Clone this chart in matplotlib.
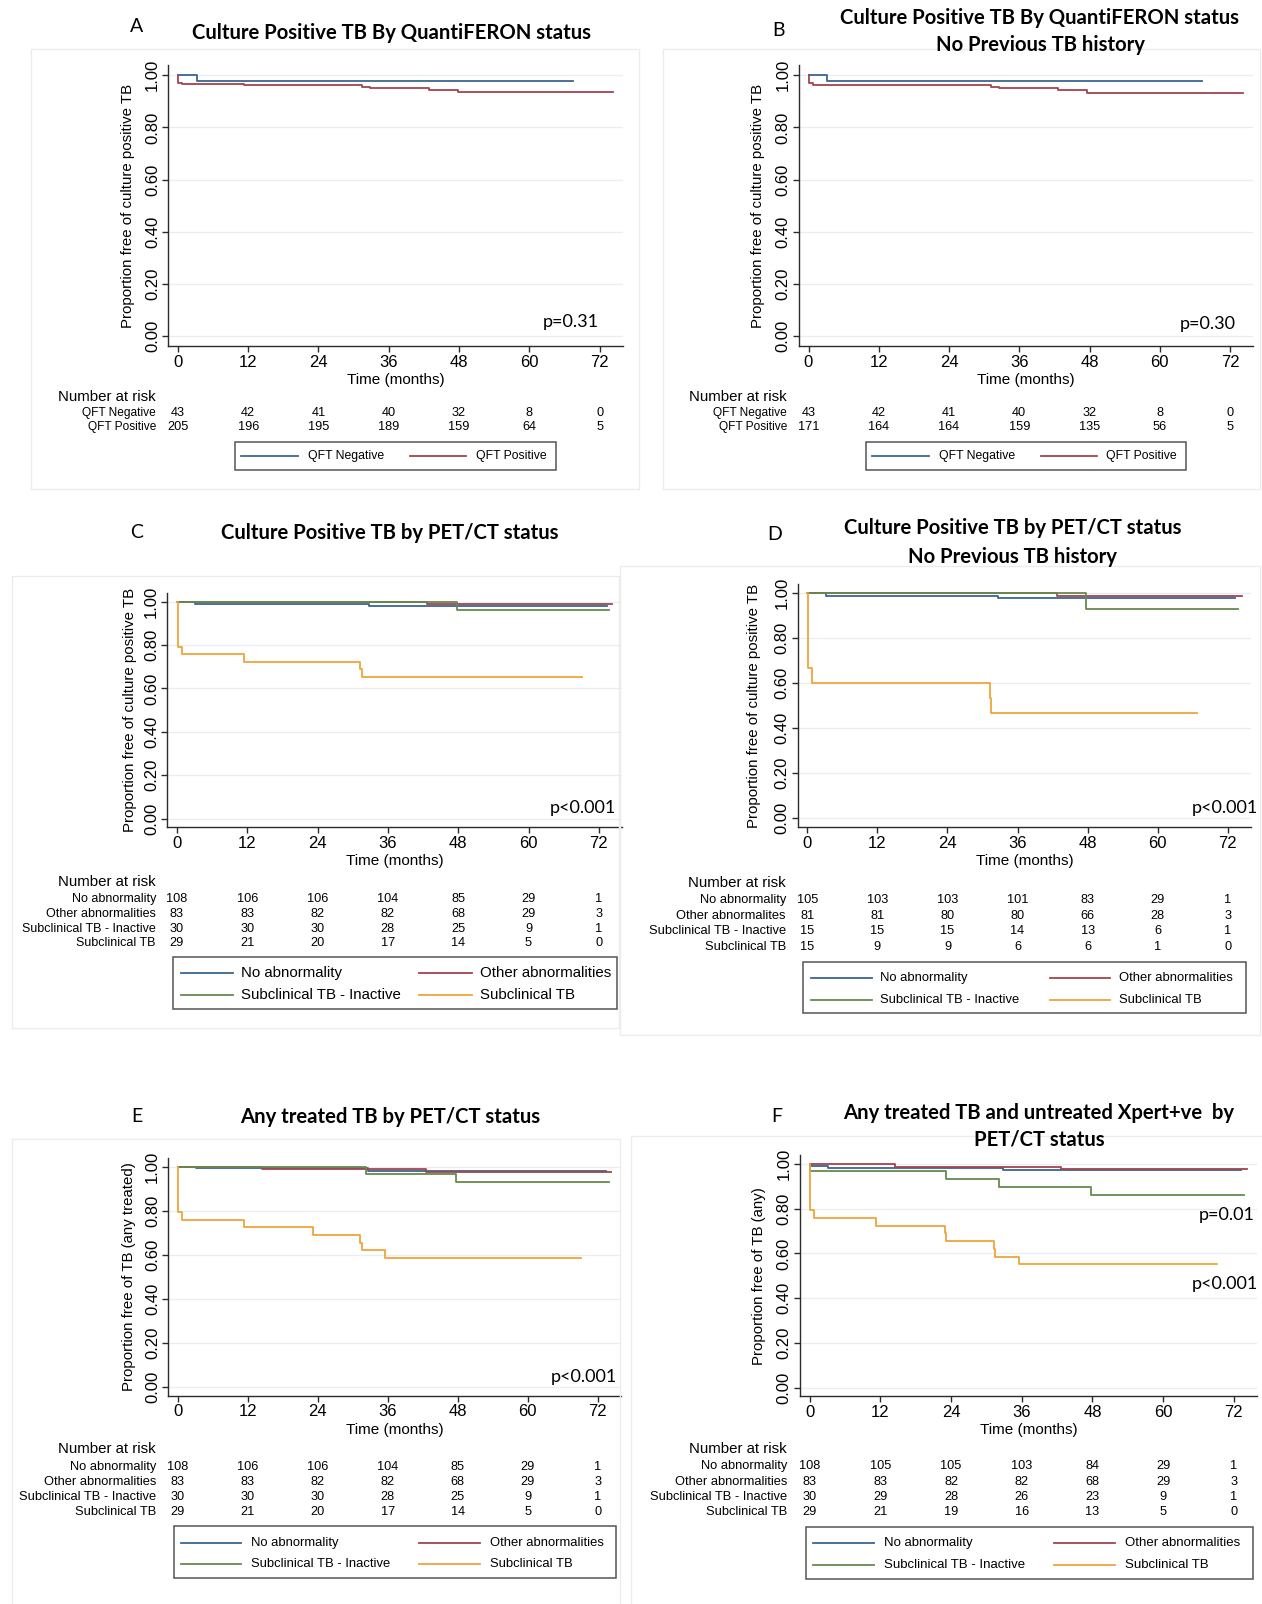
import matplotlib
matplotlib.use("Agg")
import matplotlib.pyplot as plt
from matplotlib.lines import Line2D
from matplotlib.patches import Rectangle
from matplotlib.transforms import blended_transform_factory

W, H = 1262, 1604
NARROW = ['Liberation Sans Narrow', 'Liberation Sans', 'DejaVu Sans']
CAL = ['Lato', 'DejaVu Sans']

BLUE, RED, GREEN, ORANGE = '#3a6791', '#a5434e', '#668a4c', '#f0a43a'

months = [0, 12, 24, 36, 48, 60, 72]
yticks = [0, 0.2, 0.4, 0.6, 0.8, 1.0]

# ---- data (time in months, proportion free) ----
qft_names = ['QFT Negative', 'QFT Positive']
pet_names = ['No abnormality', 'Other abnormalities', 'Subclinical TB - Inactive', 'Subclinical TB']
pet_names_d = ['No abnormality', 'Other abnormalites', 'Subclinical TB - Inactive', 'Subclinical TB']

# A
a_neg_t = [0, 3.2, 67.4]
a_neg_s = [1.0, 0.977, 0.977]
a_pos_t = [0, 0.1, 0.7, 11.3, 31.4, 32.8, 42.8, 47.8, 74.3]
a_pos_s = [1.0, 0.972, 0.966, 0.961, 0.956, 0.950, 0.943, 0.936, 0.936]
a_risk = [[43, 42, 41, 40, 32, 8, 0], [205, 196, 195, 189, 159, 64, 5]]

# B
b_neg_t = [0, 3.15, 67.2]
b_neg_s = [1.0, 0.977, 0.977]
b_pos_t = [0, 0.1, 0.75, 31.2, 32.6, 42.6, 47.6, 74.2]
b_pos_s = [1.0, 0.970, 0.964, 0.957, 0.950, 0.942, 0.934, 0.934]
b_risk = [[43, 42, 41, 40, 32, 8, 0], [171, 164, 164, 159, 135, 56, 5]]

# C
c_noab_t, c_noab_s = [0, 3.1, 32.7, 73.4], [1.0, 0.991, 0.981, 0.981]
c_oth_t, c_oth_s = [0, 42.6, 74.2], [1.0, 0.988, 0.988]
c_ina_t, c_ina_s = [0, 47.8, 73.8], [1.0, 0.962, 0.962]
c_sub_t = [0, 0.1, 0.8, 11.4, 31.2, 31.5, 69.2]
c_sub_s = [1.0, 0.793, 0.759, 0.724, 0.688, 0.652, 0.652]
c_risk = [[108, 106, 106, 104, 85, 29, 1], [83, 83, 82, 82, 68, 29, 3],
          [30, 30, 30, 28, 25, 9, 1], [29, 21, 20, 17, 14, 5, 0]]

# D
d_noab_t, d_noab_s = [0, 3.2, 32.7, 73.3], [1.0, 0.990, 0.981, 0.981]
d_oth_t, d_oth_s = [0, 42.7, 74.4], [1.0, 0.988, 0.988]
d_ina_t, d_ina_s = [0, 47.7, 73.8], [1.0, 0.929, 0.929]
d_sub_t = [0, 0.05, 0.74, 31.2, 31.4, 66.7]
d_sub_s = [1.0, 0.667, 0.600, 0.533, 0.467, 0.467]
d_risk = [[105, 103, 103, 101, 83, 29, 1], [81, 81, 80, 80, 66, 28, 3],
          [15, 15, 15, 14, 13, 6, 1], [15, 9, 9, 6, 6, 1, 0]]

# E
e_noab_t, e_noab_s = [0, 3.1, 32.6, 73.5], [1.0, 0.991, 0.981, 0.981]
e_oth_t, e_oth_s = [0, 14.4, 42.6, 74.3], [1.0, 0.988, 0.976, 0.976]
e_ina_t, e_ina_s = [0, 32.3, 47.7, 73.9], [1.0, 0.967, 0.928, 0.928]
e_sub_t = [0, 0.1, 0.65, 11.3, 23.1, 31.2, 31.5, 35.5, 69.2]
e_sub_s = [1.0, 0.793, 0.759, 0.724, 0.690, 0.655, 0.621, 0.586, 0.586]
e_risk = c_risk

# F
f_noab_t, f_noab_s = [0, 0.3, 3.1, 32.9, 73.3], [1.0, 0.991, 0.981, 0.972, 0.972]
f_oth_t, f_oth_s = [0, 14.4, 42.6, 74.2], [1.0, 0.988, 0.976, 0.976]
f_ina_t, f_ina_s = [0, 0.1, 23.1, 32.2, 47.7, 73.8], [1.0, 0.967, 0.932, 0.897, 0.862, 0.862]
f_sub_t = [0, 0.1, 0.68, 11.3, 23.0, 23.2, 31.3, 31.5, 35.6, 69.2]
f_sub_s = [1.0, 0.793, 0.759, 0.724, 0.690, 0.655, 0.621, 0.586, 0.551, 0.551]
f_risk = [[108, 105, 105, 103, 84, 29, 1], [83, 83, 82, 82, 68, 29, 3],
          [30, 29, 28, 26, 23, 9, 1], [29, 21, 19, 16, 13, 5, 0]]

fig = plt.figure(figsize=(W / 100, H / 100), dpi=100)


def fx(x):
    return x / W


def fy(y):
    return 1 - y / H


def ftext(x, y, s, **kw):
    fig.text(fx(x), fy(y), s, **kw)


def frame(x0, y0, x1, y1):
    fig.add_artist(Rectangle((fx(x0), fy(y1)), (x1 - x0) / W, (y1 - y0) / H,
                             transform=fig.transFigure, fill=False, ec='#ececec', lw=1))


def km_axes(x0, x72, y1, y0, ylabel, ylab_x):
    sx = (x72 - x0) / 72
    sy = y0 - y1
    left, right = x0 - 1.65 * sx, x0 + 76 * sx
    top, bot = y1 - 0.04 * sy, y0 + 0.04 * sy
    ax = fig.add_axes([fx(left), fy(bot), (right - left) / W, (bot - top) / H])
    ax.set_xlim(-1.65, 76)
    ax.set_ylim(-0.04, 1.04)
    for s in ['top', 'right']:
        ax.spines[s].set_visible(False)
    for s in ['left', 'bottom']:
        ax.spines[s].set_color('#2b2b2b')
        ax.spines[s].set_linewidth(1.0)
    ax.set_xticks(months)
    ax.set_xticklabels([str(m) for m in months], fontfamily=NARROW, fontsize=12)
    ax.set_yticks(yticks)
    ax.set_yticklabels(['%.2f' % v for v in yticks], rotation=90, va='center',
                       fontfamily=NARROW, fontsize=12)
    ax.tick_params(length=4, width=1, color='#2b2b2b', pad=2)
    ax.grid(axis='y', color='#e8eef3', lw=0.9)
    ax.set_axisbelow(True)
    ftext(ylab_x, (top + bot) / 2, ylabel, rotation=90, ha='center', va='center',
          fontfamily=NARROW, fontsize=10.8)
    ftext((left + right) / 2, bot + 34, 'Time (months)', ha='center', va='center',
          fontfamily=NARROW, fontsize=11)
    return ax


def risk_table(ax, label_x, head_y, row_ys, names, counts, fs):
    tr = blended_transform_factory(ax.transData, fig.transFigure)
    ftext(label_x, head_y, 'Number at risk', ha='right', va='center',
          fontfamily=NARROW, fontsize=10.8)
    for name, row, y in zip(names, counts, row_ys):
        ftext(label_x, y, name, ha='right', va='center', fontfamily=NARROW, fontsize=fs)
        for m, n in zip(months, row):
            ax.text(m, fy(y), str(n), transform=tr, ha='center', va='center',
                    fontfamily=NARROW, fontsize=9.2)


def legend_box(box, entries, fs):
    x0, y0, x1, y1 = box
    fig.add_artist(Rectangle((fx(x0), fy(y1)), (x1 - x0) / W, (y1 - y0) / H,
                             transform=fig.transFigure, fill=False, ec='#555555', lw=1.1))
    for color, label, lx0, lx1, tx, y in entries:
        fig.add_artist(Line2D([fx(lx0), fx(lx1)], [fy(y), fy(y)], transform=fig.transFigure,
                              color=color, lw=1.3))
        ftext(tx, y, label, ha='left', va='center', fontfamily=NARROW, fontsize=fs)


def curves(ax, series, colors):
    for (t, s), c in zip(series, colors):
        ax.step(t, s, where='post', color=c, lw=1.3)


def title(x, y, s):
    ftext(x, y, s, ha='center', va='center', fontfamily=CAL, fontweight='bold', fontsize=14.6)


def letter(x, y, s):
    ftext(x, y, s, ha='center', va='center', fontfamily=CAL, fontsize=14)


def ptext(x, y, s):
    ftext(x, y, s, ha='center', va='center', fontfamily=CAL, fontsize=13)


pet_colors = [BLUE, RED, GREEN, ORANGE]

# panel frames
frame(31, 49, 639, 489)
frame(663, 49, 1260, 489)
frame(12, 576, 619, 1028)
frame(620, 566, 1260, 1035)
frame(12, 1139, 620, 1620)
frame(631, 1136, 1270, 1620)

# ---------- A ----------
letter(137, 27, 'A')
title(392, 33, 'Culture Positive TB By QuantiFERON status')
ax = km_axes(177.9, 599.6, 75.3, 336, 'Proportion free of culture positive TB', 128)
curves(ax, [(a_neg_t, a_neg_s), (a_pos_t, a_pos_s)], [BLUE, RED])
ptext(571, 322, 'p=0.31')
risk_table(ax, 156, 397, [413, 427], qft_names, a_risk, 8.6)
legend_box((235, 442, 556, 470),
           [(BLUE, qft_names[0], 241, 298, 308, 456), (RED, qft_names[1], 410, 466, 476, 456)], 8.8)

# ---------- B ----------
letter(778, 31, 'B')
title(1040, 18, 'Culture Positive TB By QuantiFERON status')
title(1040, 45, 'No Previous TB history')
ax = km_axes(808.5, 1230, 75.3, 336, 'Proportion free of culture positive TB', 758)
curves(ax, [(b_neg_t, b_neg_s), (b_pos_t, b_pos_s)], [BLUE, RED])
ptext(1208, 324, 'p=0.30')
risk_table(ax, 787, 397, [413, 427], qft_names, b_risk, 8.6)
legend_box((866, 442, 1186, 470),
           [(BLUE, qft_names[0], 872, 929, 939, 456), (RED, qft_names[1], 1041, 1097, 1106, 456)], 8.8)

# ---------- C ----------
letter(137, 533, 'C')
title(390, 533, 'Culture Positive TB by PET/CT status')
ax = km_axes(177, 598.8, 601.7, 818.5, 'Proportion free of culture positive TB', 129.6)
curves(ax, [(c_noab_t, c_noab_s), (c_oth_t, c_oth_s), (c_ina_t, c_ina_s), (c_sub_t, c_sub_s)], pet_colors)
ptext(583, 808, 'p<0.001')
risk_table(ax, 156, 881.7, [898.7, 913.7, 928.7, 943.3], pet_names, c_risk, 9.0)
legend_box((173, 957, 616.5, 1009),
           [(BLUE, pet_names[0], 181, 233, 241, 973), (RED, pet_names[1], 419, 472, 480, 973),
            (GREEN, pet_names[2], 181, 233, 241, 995), (ORANGE, pet_names[3], 419, 472, 480, 995)], 10.8)

# ---------- D ----------
letter(775, 535, 'D')
title(1012.5, 528, 'Culture Positive TB by PET/CT status')
title(1012.5, 556.7, 'No Previous TB history')
ax = km_axes(807.3, 1227.8, 593.3, 818.3, 'Proportion free of culture positive TB', 753.7)
curves(ax, [(d_noab_t, d_noab_s), (d_oth_t, d_oth_s), (d_ina_t, d_ina_s), (d_sub_t, d_sub_s)], pet_colors)
ptext(1224.6, 808, 'p<0.001')
risk_table(ax, 786, 882.7, [900, 915.7, 931, 946.7], pet_names_d, d_risk, 9.3)
legend_box((803, 962, 1246, 1013),
           [(BLUE, pet_names[0], 811, 872, 880.5, 978.3), (RED, pet_names[1], 1049.5, 1110, 1119, 978.3),
            (GREEN, pet_names[2], 811, 872, 880.5, 1000), (ORANGE, pet_names[3], 1049.5, 1110, 1119, 1000)], 9.4)

# ---------- E ----------
letter(137, 1116.7, 'E')
title(390, 1116.7, 'Any treated TB by PET/CT status')
ax = km_axes(177.9, 597.6, 1166.5, 1387, 'Proportion free of TB (any treated)', 128.8)
curves(ax, [(e_noab_t, e_noab_s), (e_oth_t, e_oth_s), (e_ina_t, e_ina_s), (e_sub_t, e_sub_s)], pet_colors)
ptext(584.3, 1377.3, 'p<0.001')
risk_table(ax, 156, 1449, [1466.7, 1481.7, 1496.7, 1511.7], pet_names, e_risk, 9.3)
legend_box((173.8, 1526, 615.7, 1578.3),
           [(BLUE, pet_names[0], 181, 240.6, 250.7, 1542.7), (RED, pet_names[1], 419, 479.7, 489.7, 1542.7),
            (GREEN, pet_names[2], 181, 240.6, 250.7, 1564.3), (ORANGE, pet_names[3], 419, 479.7, 489.7, 1564.3)], 9.4)

# ---------- F ----------
letter(776.7, 1116.7, 'F')
title(1038.6, 1113.3, 'Any treated TB and untreated Xpert+ve  by')
title(1039, 1140, 'PET/CT status')
ax = km_axes(809.7, 1233.8, 1164, 1387.5, 'Proportion free of TB (any)', 759)
curves(ax, [(f_noab_t, f_noab_s), (f_oth_t, f_oth_s), (f_ina_t, f_ina_s), (f_sub_t, f_sub_s)], pet_colors)
ptext(1226.6, 1215, 'p=0.01')
ptext(1224.6, 1284, 'p<0.001')
risk_table(ax, 787, 1449.3, [1466.3, 1481.7, 1496.7, 1512], pet_names, f_risk, 9.3)
legend_box((806, 1527, 1253, 1579),
           [(BLUE, pet_names[0], 813.3, 873.7, 883.7, 1543.3), (RED, pet_names[1], 1054.3, 1115, 1125, 1543.3),
            (GREEN, pet_names[2], 813.3, 873.7, 883.7, 1565), (ORANGE, pet_names[3], 1054.3, 1115, 1125, 1565)], 9.5)

fig.savefig('out.png', dpi=100, facecolor='white')
